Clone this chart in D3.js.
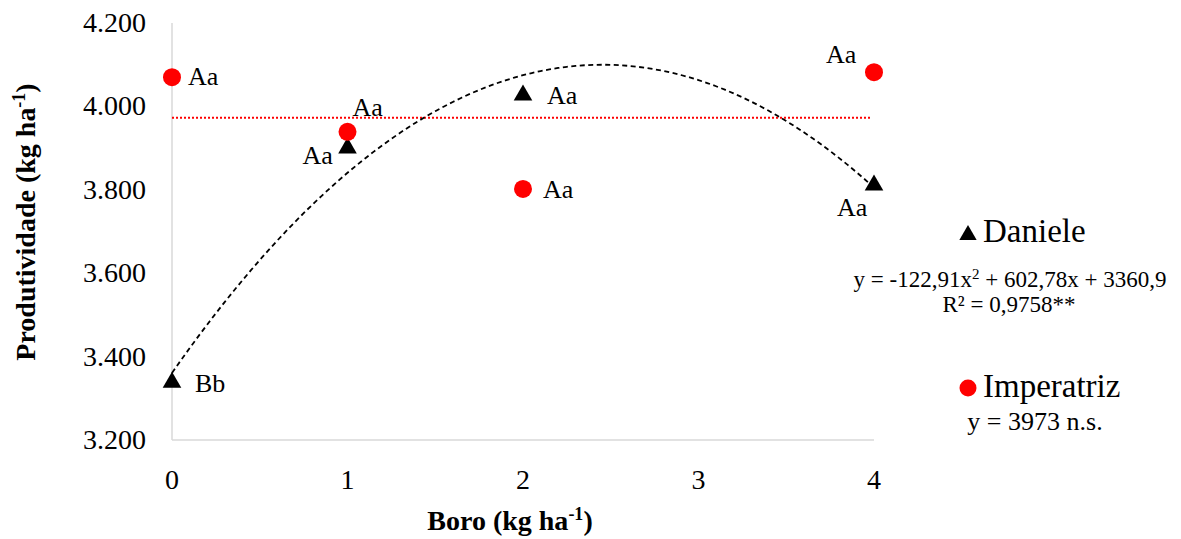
<!DOCTYPE html>
<html>
<head>
<meta charset="utf-8">
<script src="https://cdn.jsdelivr.net/npm/d3@7"></script>
<style>
  body { margin: 0; background: #fff; }
  text { font-family: "Liberation Serif", "Times New Roman", serif; fill: #000; }
</style>
</head>
<body>
<script>
// data
const doses = [0, 1, 2, 4];
const daniele = [3338, 3900, 4027, 3811];
const imperatriz = [4070, 3939, 3802, 4082];
const danieleLetters = ["Bb", "Aa", "Aa", "Aa"];
const imperatrizLetters = ["Aa", "Aa", "Aa", "Aa"];
const quadCoef = [3360.9, 602.78, -122.91];   // c, b, a
const imperatrizMean = 3973;
const yTicks = [3200, 3400, 3600, 3800, 4000, 4200];
const xTicks = [0, 1, 2, 3, 4];

const width = 1181, height = 539;
const svg = d3.select("body").append("svg")
  .attr("width", width).attr("height", height);

const x = d3.scaleLinear().domain([0, 4]).range([172, 874]);
const y = d3.scaleLinear().domain([3200, 4200]).range([440, 23]);

const fmt = v => d3.format(",.0f")(v).replace(",", ".");

// axes lines (light grey)
svg.append("line")
  .attr("x1", x(0)).attr("x2", x(0)).attr("y1", y(4200)).attr("y2", y(3200))
  .attr("stroke", "#d9d9d9").attr("stroke-width", 1.5);
svg.append("line")
  .attr("x1", x(0)).attr("x2", x(4)).attr("y1", y(3200)).attr("y2", y(3200))
  .attr("stroke", "#d9d9d9").attr("stroke-width", 1.5);

// tick labels
svg.selectAll(".ytick").data(yTicks).join("text")
  .attr("class", "ytick")
  .attr("x", 146).attr("y", d => y(d) + 9)
  .attr("text-anchor", "end")
  .style("font-size", "28px")
  .text(fmt);

svg.selectAll(".xtick").data(xTicks).join("text")
  .attr("class", "xtick")
  .attr("x", d => x(d)).attr("y", 489)
  .attr("text-anchor", "middle")
  .style("font-size", "28px")
  .text(d => d);

// axis titles
const yt = svg.append("text")
  .attr("transform", "translate(35,222) rotate(-90)")
  .attr("text-anchor", "middle")
  .style("font-size", "28px").style("font-weight", "bold");
yt.append("tspan").text("Produtividade (kg ha");
yt.append("tspan").attr("dy", -10).style("font-size", "18px").text("-1");
yt.append("tspan").attr("dy", 10).text(")");

const xt = svg.append("text")
  .attr("x", 510).attr("y", 530)
  .attr("text-anchor", "middle")
  .style("font-size", "28px").style("font-weight", "bold");
xt.append("tspan").text("Boro (kg ha");
xt.append("tspan").attr("dy", -10).style("font-size", "18px").text("-1");
xt.append("tspan").attr("dy", 10).text(")");

// mean line for Imperatriz
svg.append("line")
  .attr("x1", x(0)).attr("x2", x(4) - 2)
  .attr("y1", y(imperatrizMean)).attr("y2", y(imperatrizMean))
  .attr("stroke", "#ff0000").attr("stroke-width", 2)
  .attr("stroke-dasharray", "2 2");

// quadratic trend for Daniele
const curveX = d3.range(0, 4.001, 0.05);
const fit = v => quadCoef[0] + quadCoef[1] * v + quadCoef[2] * v * v;
svg.append("path")
  .datum(curveX)
  .attr("d", d3.line().x(d => x(d)).y(d => y(fit(d))))
  .attr("fill", "none").attr("stroke", "#000")
  .attr("stroke-width", 1.8).attr("stroke-dasharray", "5 3.5");

// markers
const tri = d3.symbol().type(d3.symbolTriangle).size(150);
svg.selectAll(".dan").data(doses).join("path")
  .attr("class", "dan")
  .attr("d", tri)
  .attr("transform", (d, i) => `translate(${x(d)},${y(daniele[i])})`)
  .attr("fill", "#000");

svg.selectAll(".imp").data(doses).join("circle")
  .attr("class", "imp")
  .attr("cx", d => x(d)).attr("cy", (d, i) => y(imperatriz[i]))
  .attr("r", 9).attr("fill", "#ff0000");

// significance letters (offsets from each point)
const danOff = [[23, 10], [-45, 16], [24, 9], [-37, 31]];
const impOff = [[16, 8], [5, -16], [20, 9], [-48, -9]];
svg.selectAll(".danlab").data(doses).join("text")
  .attr("class", "danlab")
  .attr("x", (d, i) => x(d) + danOff[i][0])
  .attr("y", (d, i) => y(daniele[i]) + danOff[i][1])
  .style("font-size", "26px")
  .text((d, i) => danieleLetters[i]);
svg.selectAll(".implab").data(doses).join("text")
  .attr("class", "implab")
  .attr("x", (d, i) => x(d) + impOff[i][0])
  .attr("y", (d, i) => y(imperatriz[i]) + impOff[i][1])
  .style("font-size", "26px")
  .text((d, i) => imperatrizLetters[i]);

// legend
const lg = svg.append("g");
lg.append("path").attr("d", d3.symbol().type(d3.symbolTriangle).size(130))
  .attr("transform", "translate(968,235)").attr("fill", "#000");
lg.append("text").attr("x", 983).attr("y", 242)
  .style("font-size", "33px").text("Daniele");

const eq = lg.append("text").attr("x", 1010).attr("y", 287)
  .attr("text-anchor", "middle").style("font-size", "23px");
eq.append("tspan").text("y = -122,91x");
eq.append("tspan").attr("dy", -8).style("font-size", "15px").text("2");
eq.append("tspan").attr("dy", 8).text(" + 602,78x + 3360,9");
lg.append("text").attr("x", 1009).attr("y", 312)
  .attr("text-anchor", "middle").style("font-size", "23px")
  .text("R² = 0,9758**");

lg.append("circle").attr("cx", 968).attr("cy", 388).attr("r", 8.5).attr("fill", "#ff0000");
lg.append("text").attr("x", 983).attr("y", 397)
  .style("font-size", "33px").text("Imperatriz");
lg.append("text").attr("x", 1035).attr("y", 430)
  .attr("text-anchor", "middle").style("font-size", "26px")
  .text("y = 3973 n.s.");
</script>
</body>
</html>
